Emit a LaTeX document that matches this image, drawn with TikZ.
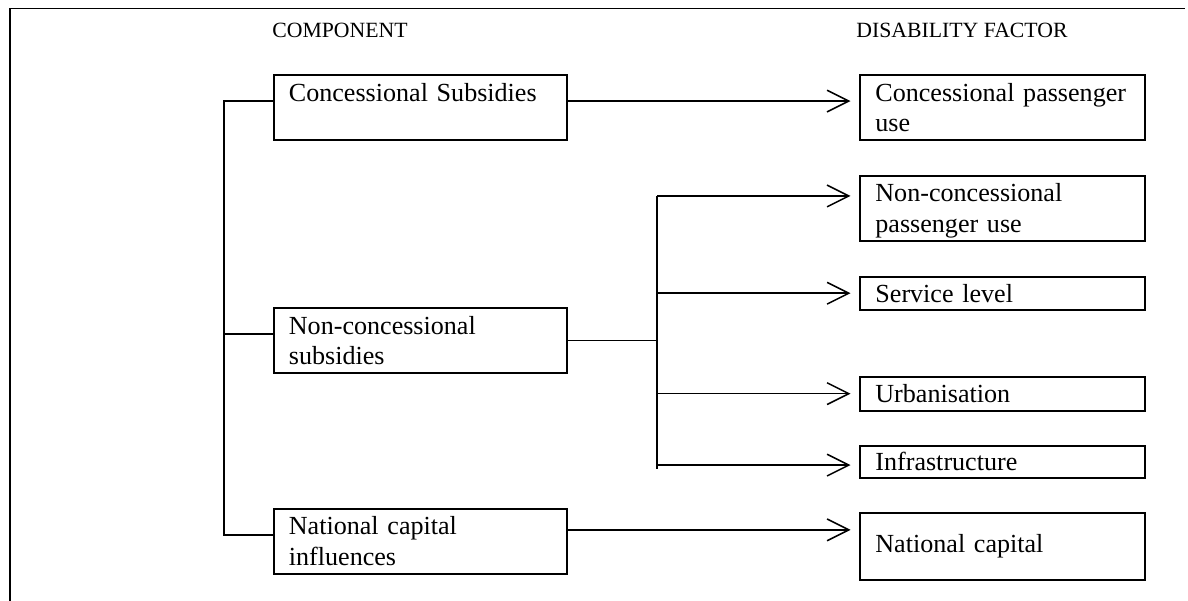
\documentclass[tikz,border=0pt]{standalone}
\usepackage{fontspec}
\setmainfont{Liberation Serif}
\usetikzlibrary{positioning,arrows.meta}
\tikzset{
    box/.style={
        draw, line width=0.9pt, align=left, anchor=north west,
        inner xsep=7pt, inner ysep=3pt,
        font=\fontsize{12}{14}\selectfont
    },
    comp/.style={box, text width=121pt, text height=9pt, text depth=15pt},
    factor/.style={box, text width=117pt, text height=9pt, text depth=15pt},
    onebox/.style={box, text width=117pt, inner ysep=0pt, minimum height=#1},
    head/.style={font=\fontsize{10}{12}\selectfont},
    *>/.style={
        shorten >=4pt,
        to path={
            -- (\tikztostart -| \tikztotarget.west) \tikztonodes
        }
    }
}
\begin{document}
\begin{tikzpicture}[x=0.46pt,y=-0.46pt,line width=0.7pt,
    >={Straight Barb[length=10pt,width=10pt]}]
\useasboundingbox (0,0) rectangle (1188,601);
\draw[line width=0.9pt] (10,601) -- (10,8.5) -- (1185,8.5);
\node(H1) [head] at (340,30) {COMPONENT};
\node(H2) [head] at (962,30) {DISABILITY FACTOR};
% components
\node(A) [comp] at (272.7,74) {Concessional Subsidies};
\node(B) [comp,below=76.3pt of A] {Non-concessional\\subsidies};
\node(C) [comp,below=61.5pt of B] {National capital\\influences};
% disability factors
\node(D1) [factor,right=133.9pt of A] {Concessional passenger\\use};
\node(D2) [factor,below=15.5pt of D1] {Non-concessional\\passenger use};
\node(D3) [onebox=15.2pt,below=15.5pt of D2] {Service level};
\node(D4) [onebox=15.6pt,below=29.9pt of D3] {Urbanisation};
\node(D5) [onebox=14.7pt,below=15.2pt of D4] {Infrastructure};
\node(D6) [onebox=30.4pt,below=15.6pt of D5] {National capital};
% left bus
\draw (A.base west) -- ++(-22.4pt,0) coordinate (bus) |- (C.base west);
\draw (B.base west) -- (B.base west -| bus);
% arrows
\draw[->,*>] (A.base east) to (D1);
\draw (B.east) -- ++(40.9pt,0) coordinate (fork);
\path (fork |- D2.north) ++(0,-9.7pt) coordinate (f2);
\path (fork |- D3.west) coordinate (f3);
\path (fork |- D4.west) coordinate (f4);
\path (fork |- D5.west) ++(0,-1.6pt) coordinate (f5);
\draw (f2) -- ([yshift=-2pt]f5);
\draw[->,*>] (f2) to (D2);
\draw[->,*>] (f3) to (D3);
\draw[->,*>] (f4) to (D4);
\draw[->,*>] (f5) to (D5);
\path (C.north east) ++(0,-10.1pt) coordinate (c6);
\draw[->,*>] (c6) to (D6);
\end{tikzpicture}
\end{document}
